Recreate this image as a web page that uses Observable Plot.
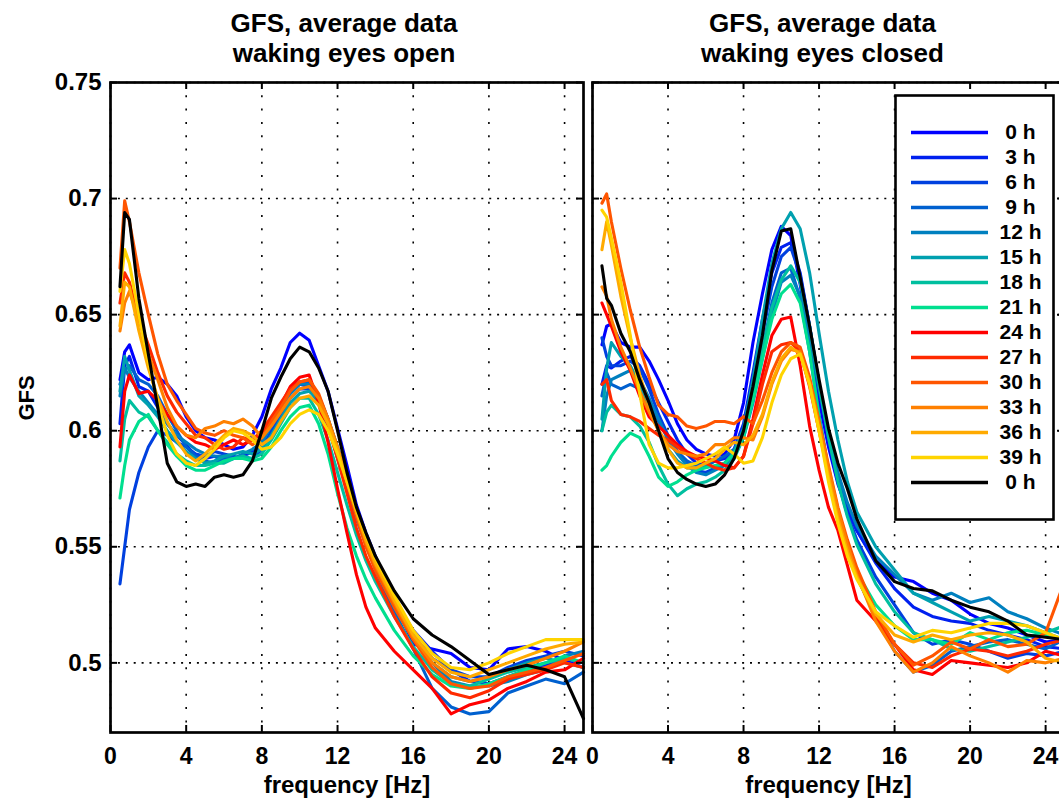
<!DOCTYPE html>
<html>
<head>
<meta charset="utf-8">
<script src="https://cdn.jsdelivr.net/npm/d3@7"></script>
<script src="https://cdn.jsdelivr.net/npm/@observablehq/plot@0.6"></script>
<style>
  html, body { margin: 0; padding: 0; background: white; }
  #root { position: relative; width: 1059px; height: 807px; overflow: hidden; background: white; }
  .panel { position: absolute; top: 0; }
  .panel svg { max-width: none !important; }
</style>
</head>
<body>
<div id="root"></div>
<script>
// ---------------- data ----------------
const freqs = [0.5,0.75,1,1.5,2,2.5,3,3.5,4,4.5,5,5.5,6,6.5,7,7.5,8,8.5,9,9.5,10,10.5,11,11.5,12,12.5,13,13.5,14,15,16,17,18,19,20,21,22,23,24,25];
const hours = [0,3,6,9,12,15,18,21,24,27,30,33,36,39,0];
const seriesColors = ["#0000ff","#0020ef","#0040df","#0060cf","#0080bf","#00a0af","#00bf9f","#00df8f",
                      "#ff0000","#ff2a00","#ff5500","#ff8000","#ffaa00","#ffd400","#000000"];
const xTicks = [0,4,8,12,16,20,24];
const yTicks = [0.5,0.55,0.6,0.65,0.7,0.75];
const titleOpen = "GFS, average data\nwaking eyes open";
const titleClosed = "GFS, average data\nwaking eyes closed";
const xLabel = "frequency [Hz]";
const yLabel = "GFS";

// eyes open (left panel)
const open0h  = [.622,.634,.637,.625,.622,.623,.62,.615,.606,.6, .597,.596,.594,.592,.593,.598,.606,.618,.627,.638, .642,.639,.628,.617,.601,.585,.568,.556,.546,.527, .508,.506,.504,.498,.497,.506,.507,.505,.501,.498];
const open3h  = [.603,.628,.632,.619,.617,.61,.603,.598,.594,.589, .588,.589,.587,.588,.589,.591,.596,.604,.611,.617, .62,.619,.613,.603,.59,.576,.563,.552,.544,.527, .514,.505,.497,.492,.491,.494,.497,.499,.502,.5];
const open6h  = [.534,.55,.566,.582,.593,.6,.598,.595,.593,.59, .589,.591,.59,.589,.588,.588,.592,.6,.607,.614, .618,.618,.612,.602,.588,.575,.562,.551,.542,.526, .512,.502,.497,.494,.494,.498,.501,.503,.505,.503];
const open9h  = [.62,.626,.628,.622,.62,.615,.607,.6,.593,.589, .587,.586,.588,.588,.588,.588,.594,.604,.611,.618, .621,.621,.615,.605,.592,.578,.565,.552,.54,.522, .506,.489,.481,.478,.479,.487,.49,.493,.491,.496];
const open12h = [.615,.627,.623,.617,.612,.607,.603,.598,.595,.592, .59,.589,.589,.588,.59,.592,.595,.602,.61,.616, .62,.62,.615,.605,.593,.58,.566,.554,.543,.526, .511,.5,.492,.49,.49,.492,.495,.497,.503,.505];
const open15h = [.617,.632,.626,.615,.611,.606,.6,.595,.591,.588, .586,.587,.589,.59,.591,.59,.592,.598,.605,.612, .616,.617,.613,.603,.59,.577,.563,.551,.541,.524, .51,.5,.494,.492,.494,.497,.5,.502,.5,.498];
const open18h = [.587,.605,.613,.608,.606,.6,.595,.59,.587,.585, .585,.586,.586,.588,.589,.588,.59,.596,.603,.61, .614,.614,.607,.596,.582,.568,.555,.544,.535,.52, .507,.497,.491,.49,.493,.496,.498,.5,.502,.5];
const open21h = [.571,.585,.596,.604,.607,.6,.594,.589,.585,.583, .583,.585,.587,.588,.588,.587,.588,.593,.6,.606, .61,.611,.603,.59,.573,.558,.546,.536,.528,.514, .503,.495,.49,.489,.491,.494,.497,.5,.503,.5];
const open24h = [.593,.617,.624,.616,.617,.613,.607,.602,.598,.595, .594,.592,.594,.596,.594,.596,.599,.604,.611,.619, .623,.624,.612,.595,.575,.556,.538,.524,.515,.505, .497,.489,.478,.482,.484,.489,.492,.496,.497,.502];
const open27h = [.655,.668,.664,.648,.637,.625,.615,.608,.603,.598, .597,.594,.592,.593,.597,.596,.6,.606,.612,.618, .621,.622,.615,.602,.588,.573,.558,.546,.537,.52, .506,.494,.487,.485,.488,.493,.495,.497,.5,.498];
const open30h = [.67,.699,.69,.668,.65,.633,.62,.613,.607,.601, .599,.598,.6,.598,.597,.594,.597,.604,.61,.617, .621,.622,.616,.605,.592,.578,.563,.55,.54,.524, .51,.498,.491,.489,.49,.494,.496,.498,.501,.504];
const open33h = [.643,.655,.66,.648,.633,.622,.61,.602,.598,.597, .601,.602,.604,.603,.605,.602,.597,.602,.608,.614, .618,.619,.614,.605,.593,.579,.565,.552,.542,.526, .511,.5,.494,.492,.494,.497,.499,.502,.505,.509];
const open36h = [.645,.664,.662,.643,.627,.614,.604,.596,.59,.587, .59,.594,.598,.601,.6,.598,.594,.597,.604,.61, .614,.615,.611,.603,.592,.578,.565,.553,.543,.527, .512,.502,.496,.494,.497,.5,.503,.506,.508,.509];
const open39h = [.66,.678,.672,.65,.63,.612,.598,.59,.586,.585, .588,.592,.597,.6,.599,.596,.592,.593,.597,.603, .607,.609,.607,.6,.59,.578,.566,.555,.545,.529, .514,.504,.498,.497,.5,.504,.507,.51,.51,.51];
const open0hB = [.662,.694,.691,.657,.633,.61,.586,.578,.576,.577, .576,.58,.581,.58,.581,.587,.6,.614,.623,.631, .636,.634,.627,.617,.6,.582,.567,.556,.546,.531, .519,.512,.507,.501,.495,.497,.499,.497,.494,.476];

// eyes closed (right panel)
const closed0h  = [.637,.645,.646,.638,.636,.636,.63,.622,.613,.603, .596,.592,.59,.589,.59,.596,.612,.638,.659,.678, .688,.684,.663,.638,.613,.593,.577,.566,.557,.544, .537,.535,.53,.527,.521,.517,.515,.512,.509,.51];
const closed3h  = [.62,.628,.627,.63,.632,.628,.62,.612,.604,.596, .59,.586,.585,.587,.588,.592,.603,.625,.648,.668, .679,.681,.668,.645,.62,.598,.58,.567,.557,.543, .532,.524,.52,.518,.517,.514,.512,.51,.507,.506];
const closed6h  = [.64,.632,.628,.628,.63,.627,.618,.607,.598,.591, .586,.583,.582,.584,.586,.59,.6,.62,.642,.662, .675,.679,.667,.645,.62,.597,.578,.564,.553,.537, .525,.513,.508,.51,.508,.505,.502,.504,.503,.505];
const closed9h  = [.615,.625,.62,.618,.62,.618,.612,.604,.597,.591, .587,.585,.585,.587,.589,.592,.599,.615,.635,.655, .668,.67,.657,.634,.607,.583,.563,.548,.537,.52, .505,.496,.499,.505,.507,.509,.51,.508,.506,.51];
const closed12h = [.6,.615,.622,.624,.626,.622,.614,.605,.596,.59, .585,.582,.581,.583,.585,.589,.597,.612,.631,.65, .664,.667,.658,.64,.618,.598,.582,.569,.559,.546, .538,.53,.527,.53,.526,.528,.522,.519,.515,.512];
const closed15h = [.605,.627,.638,.632,.628,.62,.61,.6,.592,.587, .584,.584,.585,.584,.586,.591,.601,.622,.648,.672, .687,.694,.687,.668,.642,.617,.596,.578,.565,.55, .54,.53,.526,.522,.518,.52,.518,.516,.513,.51];
const closed18h = [.6,.608,.611,.607,.606,.602,.595,.585,.577,.572, .575,.577,.578,.58,.583,.588,.597,.614,.635,.653, .665,.671,.664,.645,.62,.597,.578,.563,.551,.534, .522,.513,.51,.506,.505,.507,.509,.511,.513,.516];
const closed21h = [.583,.585,.589,.595,.599,.597,.589,.58,.576,.578, .581,.583,.584,.585,.586,.59,.598,.613,.631,.648, .659,.663,.655,.634,.606,.582,.561,.548,.539,.525, .516,.51,.51,.508,.513,.51,.513,.514,.512,.51];
const closed24h = [.655,.65,.645,.634,.626,.615,.606,.602,.598,.594, .591,.589,.588,.587,.585,.584,.589,.605,.624,.641, .648,.649,.628,.602,.583,.567,.557,.542,.527,.518, .508,.497,.495,.501,.5,.499,.498,.5,.505,.503];
const closed27h = [.62,.622,.613,.607,.606,.604,.601,.598,.596,.593, .59,.588,.586,.584,.583,.584,.589,.603,.62,.634, .637,.638,.634,.619,.6,.582,.565,.55,.538,.52, .508,.5,.498,.503,.506,.505,.503,.505,.508,.51];
const closed30h = [.698,.702,.69,.67,.652,.636,.623,.611,.607,.606, .602,.601,.602,.604,.604,.603,.606,.603,.613,.625, .634,.638,.636,.623,.604,.585,.567,.553,.541,.522, .508,.499,.503,.509,.506,.51,.507,.508,.513,.535];
const closed33h = [.662,.658,.648,.636,.627,.617,.608,.6,.594,.591, .59,.589,.59,.594,.594,.597,.597,.596,.606,.62, .63,.635,.634,.621,.603,.584,.566,.551,.538,.518, .505,.496,.5,.507,.503,.5,.496,.501,.5,.502];
const closed36h = [.678,.69,.68,.658,.64,.624,.611,.6,.592,.586, .584,.584,.586,.588,.592,.595,.594,.598,.607,.621, .631,.636,.633,.62,.6,.58,.562,.548,.537,.521, .512,.509,.512,.51,.512,.513,.512,.509,.502,.5];
const closed39h = [.695,.692,.683,.664,.641,.616,.594,.586,.584,.584, .585,.586,.588,.59,.593,.59,.586,.587,.597,.612, .624,.631,.633,.62,.6,.578,.56,.546,.536,.522, .516,.511,.514,.513,.515,.517,.517,.516,.513,.51];
const closed0hB = [.671,.657,.654,.642,.634,.622,.612,.6,.588,.582, .579,.577,.576,.577,.581,.588,.6,.619,.641,.669, .686,.687,.666,.645,.622,.601,.586,.575,.562,.544, .535,.532,.531,.527,.524,.522,.518,.512,.511,.51];

const openSeries = [open0h,open3h,open6h,open9h,open12h,open15h,open18h,open21h,open24h,open27h,open30h,open33h,open36h,open39h,open0hB];
const closedSeries = [closed0h,closed3h,closed6h,closed9h,closed12h,closed15h,closed18h,closed21h,closed24h,closed27h,closed30h,closed33h,closed36h,closed39h,closed0hB];

// ---------------- helpers ----------------
const idx = d3.range(hours.length);
const toRows = (series) => series.flatMap((vals, s) => vals.map((v, i) => ({f: freqs[i], v, s})));
const xDomain = [0, 25];
const yDomain = [0.47, 0.75];
const frameW = 472, frameH = 650;
const tickLen = 7;
const yTick = tickLen * (yDomain[1] - yDomain[0]) / frameH;
const xTick = tickLen * (xDomain[1] - xDomain[0]) / frameW;
const fmtY = d => d3.format("~g")(d);
const FONT = "'Liberation Sans', Arial, Helvetica, sans-serif";

function panel(series, title, showY, titleDx) {
  const marks = [
    Plot.gridX(xTicks, {stroke: "black", strokeOpacity: 1, strokeWidth: 1.6, strokeDasharray: "2,11.3"}),
    Plot.gridY(yTicks, {stroke: "black", strokeOpacity: 1, strokeWidth: 1.6, strokeDasharray: "2,5.9"}),
    Plot.line(toRows(series), {x: "f", y: "v", z: "s", stroke: "s", strokeWidth: 3.1, strokeLinejoin: "round"}),
    // inward tick marks on all four sides
    Plot.ruleX(xTicks, {x: d => d, y1: yDomain[0], y2: yDomain[0] + yTick, stroke: "black", strokeWidth: 2}),
    Plot.ruleX(xTicks, {x: d => d, y1: yDomain[1] - yTick, y2: yDomain[1], stroke: "black", strokeWidth: 2}),
    Plot.ruleY(yTicks, {y: d => d, x1: xDomain[0], x2: xDomain[0] + xTick, stroke: "black", strokeWidth: 2}),
    Plot.ruleY(yTicks, {y: d => d, x1: xDomain[1] - xTick, x2: xDomain[1], stroke: "black", strokeWidth: 2}),
    Plot.frame({stroke: "black", strokeWidth: 2.7}),
    Plot.axisX({ticks: xTicks, tickSize: 0, tickPadding: 15, fontSize: 23, fontWeight: "bold", label: null}),
    Plot.text([title], {frameAnchor: "top", lineAnchor: "bottom", dy: -21, dx: titleDx, fontSize: 26, fontWeight: "bold", lineHeight: 1.12}),
    Plot.text([xLabel], {frameAnchor: "bottom", dy: 60, fontSize: 24, fontWeight: "bold"})
  ];
  if (showY) {
    marks.push(Plot.axisY({ticks: yTicks, tickSize: 0, tickPadding: 9, fontSize: 24, fontWeight: "bold", tickFormat: fmtY, label: null}));
    marks.push(Plot.text([yLabel], {frameAnchor: "left", rotate: -90, dx: -84, dy: 13, fontSize: 22, fontWeight: "bold"}));
  }
  return {
    marks,
    x: {domain: xDomain},
    y: {domain: yDomain, axis: showY ? undefined : null},
    color: {type: "ordinal", domain: idx, range: seriesColors}
  };
}

const root = document.getElementById("root");

function place(svg, left, top, width) {
  const div = document.createElement("div");
  div.className = "panel";
  div.style.left = left + "px";
  div.style.top = top + "px";
  div.style.width = width + "px";
  div.appendChild(svg);
  root.appendChild(div);
}

const baseStyle = {fontFamily: FONT, fontWeight: "bold", fontSize: "24px", color: "black", background: "transparent", overflow: "visible", maxWidth: "none"};

const left = Plot.plot({
  width: 590, height: 807,
  marginLeft: 110, marginRight: 7, marginTop: 82, marginBottom: 75,
  style: baseStyle,
  ...panel(openSeries, titleOpen, true, -3)
});
place(left, 0, 0, 590);

const right = Plot.plot({
  width: 483, height: 807,
  marginLeft: 4, marginRight: 7, marginTop: 82, marginBottom: 75,
  style: baseStyle,
  ...panel(closedSeries, titleClosed, false, -6)
});
place(right, 588, 0, 483);

// legend
const legendLabel = h => (h < 10 ? "\u00a0" : "") + h + " h";
const legend = Plot.plot({
  width: 162, height: 428, margin: 2,
  style: {...baseStyle, background: "transparent"},
  x: {domain: [0, 1], range: [18, 95], axis: null},
  y: {type: "point", domain: idx, range: [20, 408], axis: null},
  color: {type: "ordinal", domain: idx, range: seriesColors},
  marks: [
    Plot.frame({fill: "white", stroke: "black", strokeWidth: 2.6}),
    Plot.ruleY(idx, {y: d => d, x1: 0, x2: 1, stroke: d => d, strokeWidth: 3.4}),
    Plot.text(idx, {y: d => d, x: 1, dx: 11, text: i => legendLabel(hours[i]), textAnchor: "start", fontSize: 21, fontWeight: "bold"})
  ]
});
place(legend, 893, 93, 162);
</script>
</body>
</html>
